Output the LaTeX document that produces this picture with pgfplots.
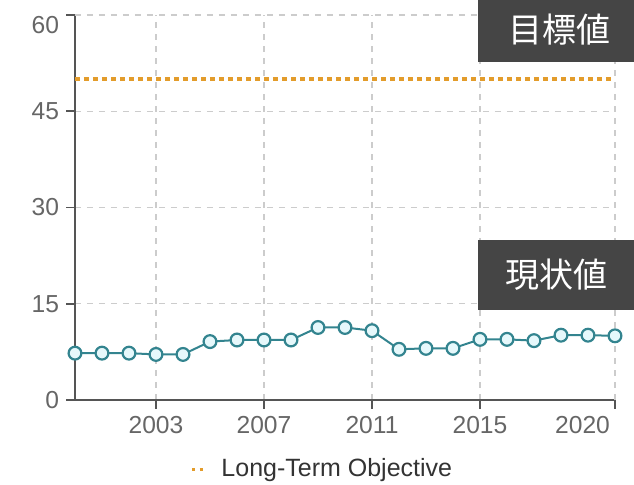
\documentclass[border=0pt]{standalone}
\usepackage{pgfplots}
\pgfplotsset{compat=1.18}
\usepackage{fontspec}
\setmainfont{Liberation Sans}
\newfontfamily\cjk{Noto Sans CJK JP}
\definecolor{tickgray}{HTML}{666666}
\definecolor{axisgray}{HTML}{555555}
\definecolor{gridgray}{HTML}{CCCCCC}
\definecolor{lineteal}{HTML}{33848F}
\definecolor{markfill}{HTML}{E6F8FB}
\definecolor{goal}{HTML}{E39C2B}
\definecolor{boxgray}{HTML}{454545}
\begin{document}
\begin{tikzpicture}
\begin{axis}[
    at={(0,0)}, anchor=south west,
    scale only axis,
    width=270pt, height=192.5pt,
    xmin=2000, xmax=2020,
    ymin=0, ymax=60,
    axis x line=bottom,
    axis y line=left,
    axis line style={-, draw=axisgray, line width=0.9pt},
    xtick={2003,2007,2011,2015},
    extra x ticks={2020},
    extra x tick style={xticklabel style={anchor=north east, xshift=1pt}},
    ytick={0,15,30,45},
    extra y ticks={60},
    extra y tick style={yticklabel style={yshift=-5pt}},
    tick align=outside,
    major tick length=4.5pt,
    tick style={draw=axisgray, line width=0.9pt},
    grid=major,
    major grid style={gridgray, dashed, line width=0.6pt},
    ticklabel style={font=\fontsize{12.3}{14}\selectfont, text=tickgray},
    /pgf/number format/1000 sep={},
    /pgf/number format/assume math mode=true,
    clip=false,
    legend style={draw=none, fill=none, at={(0.46,-0.18)}, anchor=center,
        font=\fontsize{12.5}{14}\selectfont, text=black!80},
    legend image code/.code={\draw[#1, line width=1.4pt, dash pattern=on 1.6pt off 2.2pt] (0pt,0pt) -- (7pt,0pt);},
]
\addplot[goal, line width=2pt, dash pattern=on 2.5pt off 2pt]
    coordinates {(2000,50) (2020,50)};
\addlegendentry{\hspace{5pt}Long-Term Objective}

\addplot[lineteal, line width=1pt, mark=*, mark size=3.2pt,
    mark options={fill=markfill, draw=lineteal, line width=1.1pt}, forget plot]
    coordinates {
    (2000,7.3) (2001,7.3) (2002,7.3) (2003,7.1) (2004,7.1)
    (2005,9.1) (2006,9.35) (2007,9.35) (2008,9.35) (2009,11.3)
    (2010,11.3) (2011,10.8) (2012,7.9) (2013,8.05) (2014,8.05)
    (2015,9.45) (2016,9.45) (2017,9.25) (2018,10.1) (2019,10.1)
    (2020,10.0)
    };
\end{axis}
% label boxes
\fill[boxgray] (201.5pt,169pt) rectangle (279.5pt,200pt);
\node[text=white, font=\cjk\fontsize{17}{20}\selectfont] at (242.5pt,185pt) {目標値};
\fill[boxgray] (201.5pt,45pt) rectangle (279.5pt,80pt);
\node[text=white, font=\cjk\fontsize{17}{20}\selectfont] at (241pt,62.5pt) {現状値};
\pgfresetboundingbox
\path[use as bounding box] (-37.5pt,-42.5pt) rectangle (279.5pt,200pt);
\end{tikzpicture}
\end{document}
